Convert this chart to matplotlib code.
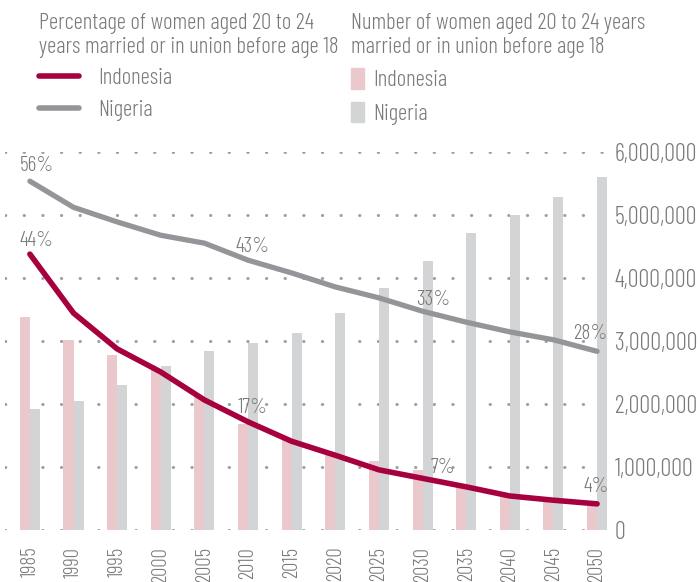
import numpy as np
import matplotlib.pyplot as plt
from matplotlib.patches import Patch
from matplotlib.lines import Line2D

plt.rcParams['font.family'] = ['Barlow Condensed', 'Roboto Condensed', 'Oswald',
                               'Liberation Sans Narrow', 'DejaVu Sans']
plt.rcParams['font.weight'] = 300

# data
years = [1985, 1990, 1995, 2000, 2005, 2010, 2015, 2020, 2025, 2030, 2035, 2040, 2045, 2050]
indo_num = [3.38e6, 3.02e6, 2.78e6, 2.55e6, 2.13e6, 1.68e6, 1.43e6, 1.24e6, 1.09e6, 0.95e6, 0.70e6, 0.52e6, 0.45e6, 0.40e6]
nig_num = [1.92e6, 2.05e6, 2.30e6, 2.60e6, 2.84e6, 2.97e6, 3.13e6, 3.44e6, 3.84e6, 4.27e6, 4.71e6, 5.00e6, 5.29e6, 5.60e6]
indo_pct = [44, 34.3, 28.4, 24.6, 20.0, 16.4, 13.2, 10.9, 8.5, 7.1, 5.7, 4.2, 3.5, 2.9]
nig_pct = [56, 51.7, 49.3, 47.1, 45.8, 43.0, 40.9, 38.6, 36.8, 34.6, 32.8, 31.2, 29.9, 28.0]

# which points get a label, and the label text
indo_labels = {1985: '44%', 2010: '17%', 2030: '7%', 2050: '4%'}
nig_labels = {1985: '56%', 2010: '43%', 2030: '33%', 2050: '28%'}
# label nudges in pixels
indo_offs = {1985: (7, 14), 2010: (5, 14), 2030: (20, 11), 2050: (-1, 17)}
nig_offs = {1985: (7, 16), 2010: (5, 14), 2030: (11, 12), 2050: (-7, 18)}

yticks = [0, 1e6, 2e6, 3e6, 4e6, 5e6, 6e6]

c_indo_line = '#a6003f'
c_nig_line = '#939598'
c_indo_bar = '#eac8cc'
c_nig_bar = '#d3d4d5'
c_text = '#7a7a7a'

fig = plt.figure(figsize=(7, 5.82), dpi=100)
ax = fig.add_axes([5 / 700, 1 - 530 / 582, 603 / 700, 378 / 582])

x = np.arange(len(years))
w = 0.23
ax.bar(x - w / 2, indo_num, width=w, color=c_indo_bar, zorder=2)
ax.bar(x + w / 2, nig_num, width=w, color=c_nig_bar, zorder=2)

ax2 = ax.twinx()

ax.set_xlim(-0.57, 13.25)
ax.set_ylim(0, 6e6)
ax.set_yticks(yticks)
ax.set_yticklabels(['0' if v == 0 else f'{int(v):,}' for v in yticks])
ax.yaxis.tick_right()
ax.tick_params(axis='y', length=0, pad=5, labelsize=17.5, labelcolor=c_text)
ax.set_xticks(x)
ax.set_xticklabels([str(y) for y in years], rotation=90, va='top')
ax.tick_params(axis='x', length=0, pad=12, labelsize=15, labelcolor=c_text)
for s in ax.spines.values():
    s.set_visible(False)
ax.yaxis.grid(True, linestyle=(0, (0.1, 6)), linewidth=2.2, color='#a0a0a0',
              dash_capstyle='round', zorder=0)
ax.set_axisbelow(True)

ax2.set_ylim(-1.4, 60.8)
ax2.axis('off')
ax2.plot(x, nig_pct, color=c_nig_line, linewidth=3.8, solid_capstyle='round', zorder=3)
ax2.plot(x, indo_pct, color=c_indo_line, linewidth=4.0, solid_capstyle='round', zorder=4)

for yr, lab in nig_labels.items():
    i = years.index(yr)
    ax2.annotate(lab, (x[i], nig_pct[i]), xytext=nig_offs[yr], textcoords='offset pixels',
                 ha='center', va='center', fontsize=15.5, color=c_text)
for yr, lab in indo_labels.items():
    i = years.index(yr)
    ax2.annotate(lab, (x[i], indo_pct[i]), xytext=indo_offs[yr], textcoords='offset pixels',
                 ha='center', va='center', fontsize=15.5, color=c_text)

# legends
line_handles = [Line2D([], [], color=c_indo_line, linewidth=4, solid_capstyle='round'),
                Line2D([], [], color=c_nig_line, linewidth=4, solid_capstyle='round')]
leg1 = fig.legend(line_handles, ['Indonesia', 'Nigeria'],
                  title='Percentage of women aged 20 to 24\nyears married or in union before age 18',
                  loc='upper left', bbox_to_anchor=(18 / 700, 1 + 8 / 582), frameon=False,
                  fontsize=16.5, title_fontsize=16.5, alignment='left', handlelength=1.75,
                  handletextpad=0.85, labelspacing=0.45, labelcolor=c_text)
leg1.get_title().set_color(c_text)
bar_handles = [Patch(color=c_indo_bar), Patch(color=c_nig_bar)]
leg2 = fig.legend(bar_handles, ['Indonesia', 'Nigeria'],
                  title='Number of women aged 20 to 24 years\nmarried or in union before age 18',
                  loc='upper left', bbox_to_anchor=(330 / 700, 1 + 8 / 582), frameon=False,
                  fontsize=16.5, title_fontsize=16.5, alignment='left', handlelength=0.6,
                  handleheight=1.0, handletextpad=0.4, labelspacing=0.45, labelcolor=c_text)
leg2.get_title().set_color(c_text)

fig.savefig('out.png', dpi=100)
